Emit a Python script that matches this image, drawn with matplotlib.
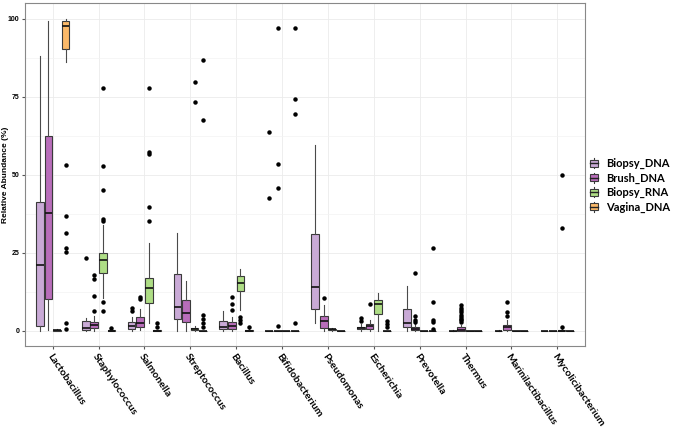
import matplotlib
matplotlib.use("Agg")
import matplotlib.pyplot as plt
from matplotlib.legend_handler import HandlerBase
from matplotlib.patches import Rectangle
from matplotlib.lines import Line2D

plt.rcParams["font.family"] = ["Lato", "DejaVu Sans"]

genera = ["Lactobacillus", "Staphylococcus", "Salmonella", "Streptococcus",
          "Bacillus", "Bifidobacterium", "Pseudomonas", "Escherichia",
          "Prevotella", "Thermus", "Marinilactibacillus", "Mycolicibacterium"]
groups = ["Biopsy_DNA", "Brush_DNA", "Biopsy_RNA", "Vagina_DNA"]
colors = ["#C9AAD6", "#B86DBA", "#AEDD85", "#FBB969"]

# rows: whisker low, q1, median, q3, whisker high (one per genus)
biopsy_dna_box = [
    [0, 1.4, 21.1, 41.3, 87.9],
    [0, 0.3, 0.7, 3.2, 3.9],
    [0, 0.6, 1.4, 2.8, 4.4],
    [0, 3.7, 7.6, 18.1, 31.4],
    [0, 0.6, 1.2, 3.0, 6.4],
    [0, 0, 0, 0, 0],
    [2.4, 6.9, 14.0, 30.9, 59.4],
    [0, 0.4, 0.8, 1.3, 2.2],
    [0, 1.2, 2.3, 7.0, 14.4],
    [0, 0, 0, 0, 0.1],
    [0, 0, 0, 0, 0.2],
    [0, 0, 0, 0, 0],
]
biopsy_dna_out = [[], [23.2], [7.1, 6.3], [], [], [63.7, 42.6], [],
                  [4.0, 3.2], [], [], [], []]

brush_dna_box = [
    [0.3, 10.1, 37.6, 62.3, 99.4],
    [0, 0.7, 1.7, 2.8, 4.6],
    [0.2, 1.1, 2.5, 4.3, 7.0],
    [0, 2.6, 5.5, 9.8, 15.8],
    [0, 0.6, 1.5, 2.9, 4.3],
    [0, 0, 0, 0, 0],
    [0, 0.9, 3.0, 4.6, 8.3],
    [0, 0.6, 1.5, 2.2, 3.3],
    [0, 0.1, 0.4, 1.2, 2.0],
    [0, 0, 0.3, 1.2, 1.7],
    [0, 0.3, 1.1, 1.9, 3.5],
    [0, 0, 0, 0, 0],
]
brush_dna_out = [[], [17.7, 16.6, 11.2, 6.4], [10.8, 10.2], [],
                 [10.8, 8.5, 6.7], [96.9, 53.4, 45.6, 1.5], [10.5], [8.5],
                 [18.4, 4.8, 3.4, 2.8],
                 [8.3, 7.4, 6.6, 5.8, 5.1, 4.4, 3.8, 3.3, 2.7],
                 [9.3, 5.8, 4.8], []]

biopsy_rna_box = [
    [0, 0, 0.1, 0.2, 0.4],
    [10.5, 18.6, 22.5, 24.8, 33.9],
    [2.4, 8.8, 13.8, 16.8, 28.2],
    [0, 0.3, 0.6, 0.9, 1.5],
    [6.7, 12.6, 15.4, 17.4, 19.7],
    [0, 0, 0, 0, 0],
    [0, 0.2, 0.4, 0.6, 0.9],
    [0, 5.3, 8.4, 9.9, 12.0],
    [0, 0, 0, 0, 0],
    [0, 0, 0, 0, 0],
    [0, 0, 0, 0, 0],
    [0, 0, 0, 0.2, 0.5],
]
biopsy_rna_out = [[], [77.9, 52.8, 45.0, 35.8, 35.2, 9.2, 6.3],
                  [77.9, 57.3, 56.5, 39.7, 35.2], [79.8, 73.3],
                  [4.4, 3.5, 2.4], [], [], [], [], [], [],
                  [49.8, 32.8, 1.0]]

vagina_dna_box = [
    [86.0, 90.3, 97.8, 99.4, 99.9],
    [0, 0, 0, 0.1, 0.3],
    [0, 0, 0, 0.1, 0.3],
    [0, 0, 0, 0, 0],
    [0, 0, 0, 0.2, 0.6],
    [0, 0, 0, 0, 0],
    [0, 0, 0, 0, 0],
    [0, 0, 0, 0, 0],
    [0, 0, 0, 0, 0],
    [0, 0, 0, 0, 0],
    [0, 0, 0, 0, 0],
    [0, 0, 0, 0, 0],
]
vagina_dna_out = [[53.2, 36.7, 31.2, 26.4, 25.3, 2.4, 0.5], [0.9], [2.3, 1.0],
                  [86.6, 67.6, 4.9, 3.8, 2.3, 1.2], [1.0],
                  [96.9, 74.2, 69.5, 2.4], [], [3.2, 2.1, 1.1],
                  [26.6, 9.3, 3.4, 2.8, 0.4], [], [], []]

all_boxes = [biopsy_dna_box, brush_dna_box, biopsy_rna_box, vagina_dna_box]
all_out = [biopsy_dna_out, brush_dna_out, biopsy_rna_out, vagina_dna_out]

yticks = [0, 25, 50, 75, 100]

EDGE = "#3a3a3a"


class BoxKey(HandlerBase):
    # ggplot-style boxplot key: filled box with a median line and whisker stubs
    def create_artists(self, legend, orig_handle, xdescent, ydescent,
                       width, height, fontsize, trans):
        cx = width / 2 - xdescent
        bw = width * 0.8
        y0 = height * 0.15 - ydescent
        bh = height * 0.7
        rect = Rectangle((cx - bw / 2, y0), bw, bh,
                         facecolor=orig_handle.get_facecolor(),
                         edgecolor=EDGE, lw=0.8, transform=trans)
        mid = Line2D([cx - bw / 2, cx + bw / 2], [y0 + bh / 2] * 2,
                     color="#222222", lw=1.0, transform=trans)
        wl = Line2D([cx, cx], [-ydescent, y0], color=EDGE, lw=0.8, transform=trans)
        wh = Line2D([cx, cx], [y0 + bh, height - ydescent], color=EDGE, lw=0.8,
                    transform=trans)
        return [wl, wh, rect, mid]


fig = plt.figure(figsize=(6.8, 4.36), dpi=100)
ax = fig.add_axes([0.037, 0.206, 0.823, 0.787])

offsets = [-0.28, -0.093, 0.093, 0.28]
for g, (boxes, outs) in enumerate(zip(all_boxes, all_out)):
    stats = []
    for row, fl in zip(boxes, outs):
        lo, q1, med, q3, hi = row
        stats.append(dict(whislo=lo, q1=q1, med=med, q3=q3, whishi=hi, fliers=fl))
    pos = [i + offsets[g] for i in range(len(genera))]
    ax.bxp(stats, positions=pos, widths=0.17, patch_artist=True,
           showcaps=False, manage_ticks=False,
           boxprops=dict(facecolor=colors[g], edgecolor=EDGE, lw=0.8),
           medianprops=dict(color="#111111", lw=1.2),
           whiskerprops=dict(color="#4a4a4a", lw=0.8),
           flierprops=dict(marker="o", markersize=2.2, markerfacecolor="black",
                           markeredgecolor="black", linestyle="none"))

ax.set_xlim(-0.6, len(genera) - 0.4)
ax.set_ylim(-5, 105)
ax.set_yticks(yticks)
ax.set_yticklabels([str(v) for v in yticks], fontsize=5, fontweight="bold",
                   family=["Liberation Sans", "DejaVu Sans"])
ax.set_yticks([12.5, 37.5, 62.5, 87.5], minor=True)
ax.set_xticks(range(len(genera)))
ax.set_xticklabels(genera, rotation=-56, ha="left", va="top",
                   rotation_mode="anchor", fontsize=7.5, fontweight="bold")
ax.tick_params(axis="both", which="major", length=2, color="#555555", pad=2)
ax.tick_params(axis="y", which="minor", length=0)
ax.grid(True, which="major", color="#EBEBEB", lw=0.6)
ax.grid(True, which="minor", axis="y", color="#F3F3F3", lw=0.5)
ax.set_axisbelow(True)
for s in ax.spines.values():
    s.set_color("#888888")
    s.set_linewidth(0.8)

ax.set_ylabel("Relative Abundance (%)", fontsize=6, fontweight="bold",
              family=["Liberation Sans", "DejaVu Sans"])
ax.yaxis.set_label_coords(-0.029, 0.5)

handles = [Rectangle((0, 0), 1, 1, facecolor=c) for c in colors]
leg = fig.legend(handles, groups, loc="center left", bbox_to_anchor=(0.86, 0.575),
                 frameon=False, handler_map={Rectangle: BoxKey()},
                 handlelength=0.9, handleheight=1.0, handletextpad=0.6,
                 labelspacing=0.3, borderpad=0.2, borderaxespad=0.2,
                 prop=dict(size=8, weight="bold"))

fig.savefig("out.png", dpi=100)
